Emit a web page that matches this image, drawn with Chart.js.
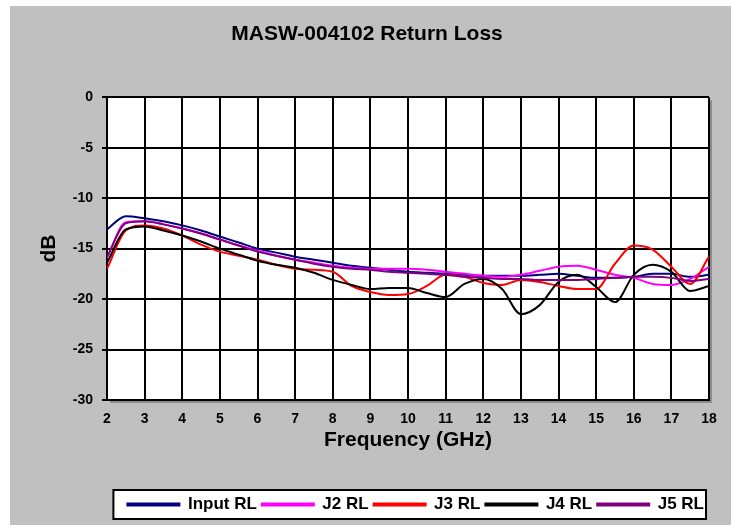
<!DOCTYPE html>
<html lang="en">
<head>
<meta charset="UTF-8">
<title>MASW-004102 Return Loss</title>
<script src="https://cdn.jsdelivr.net/npm/chart.js"></script>
<style>
  body { margin: 0; background: #fff; }
</style>
</head>
<body>
<canvas id="rlChart" width="731" height="525"></canvas>
<script>
    // frequency points (GHz)
    const freq = [2, 2.5, 3, 3.5, 4, 4.5, 5, 5.5, 6, 6.5, 7, 7.5, 8, 8.5, 9, 9.5, 10,
                  10.5, 11, 11.5, 12, 12.5, 13, 13.5, 14, 14.5, 15, 15.5, 16, 16.5, 17, 17.5, 18];

    // return loss (dB)
    const inputRL = [-13.1, -11.8, -12.0, -12.3, -12.7, -13.2, -13.8, -14.4, -15.0, -15.4, -15.8, -16.1, -16.4, -16.7, -16.9, -17.1, -17.3,
                     -17.4, -17.5, -17.6, -17.7, -17.7, -17.7, -17.6, -17.5, -17.7, -17.9, -17.9, -17.8, -17.5, -17.5, -17.8, -17.6];
    const j2RL = [-15.9, -12.4, -12.3, -12.6, -13.0, -13.5, -14.1, -14.7, -15.2, -15.7, -16.1, -16.4, -16.7, -16.9, -17.0, -17.0, -17.0,
                  -17.1, -17.3, -17.5, -17.7, -17.8, -17.6, -17.2, -16.8, -16.7, -17.1, -17.6, -17.9, -18.5, -18.6, -18.0, -16.8];
    const j3RL = [-17.0, -13.2, -12.7, -13.0, -13.7, -14.6, -15.3, -15.7, -16.1, -16.6, -17.0, -17.1, -17.3, -18.7, -19.3, -19.6, -19.5,
                  -18.7, -17.6, -17.8, -18.4, -18.6, -18.1, -18.3, -18.7, -19.0, -19.0, -16.5, -14.7, -15.1, -16.8, -18.5, -15.8];
    const j4RL = [-16.4, -13.1, -12.8, -13.2, -13.7, -14.3, -15.0, -15.6, -16.2, -16.6, -16.9, -17.4, -18.1, -18.6, -19.0, -18.9, -18.9,
                  -19.4, -19.8, -18.5, -18.0, -19.0, -21.5, -20.6, -18.3, -17.6, -18.8, -20.3, -17.6, -16.6, -17.3, -19.2, -18.7];
    const j5RL = [-15.8, -12.5, -12.3, -12.6, -13.0, -13.5, -14.1, -14.7, -15.3, -15.7, -16.1, -16.5, -16.8, -17.0, -17.1, -17.3, -17.4,
                  -17.5, -17.6, -17.8, -17.9, -18.0, -18.0, -18.1, -18.1, -18.1, -18.0, -17.9, -17.8, -17.8, -17.9, -18.2, -18.0];

    const seriesNames = ['Input RL', 'J2 RL', 'J3 RL', 'J4 RL', 'J5 RL'];
    const seriesData = [inputRL, j2RL, j3RL, j4RL, j5RL];
    const seriesColors = ['#000080', '#ff00ff', '#ff0000', '#000000', '#800080'];

    const FONT = "'Liberation Sans', Arial, sans-serif";

    // grey page, white plot with a shadow, box round the legend
    const frame = {
        id: 'frame',
        beforeDraw(chart) {
            const ctx = chart.ctx;
            const a = chart.chartArea;
            ctx.save();
            ctx.fillStyle = '#c0c0c0';
            ctx.fillRect(10, 6, chart.width - 10, chart.height - 6);
            ctx.fillStyle = '#8c8c8c';
            ctx.fillRect(a.left + 3, a.top + 3, a.right - a.left, a.bottom - a.top);
            ctx.fillStyle = '#ffffff';
            ctx.fillRect(a.left, a.top, a.right - a.left, a.bottom - a.top);

            const boxes = chart.legend.legendHitBoxes;
            if (boxes && boxes.length) {
                const first = boxes[0], last = boxes[boxes.length - 1];
                const x0 = first.left - 14, x1 = last.left + last.width + 2;
                const y0 = first.top - 6, y1 = first.top + first.height + 6;
                ctx.fillStyle = '#ffffff';
                ctx.fillRect(x0, y0, x1 - x0, y1 - y0);
                ctx.strokeStyle = '#000000';
                ctx.lineWidth = 2;
                ctx.strokeRect(x0, y0, x1 - x0, y1 - y0);
            }
            ctx.restore();
        }
    };

    const ctx = document.getElementById('rlChart').getContext('2d');
    new Chart(ctx, {
        type: 'line',
        data: {
            datasets: seriesNames.map((name, i) => ({
                label: name,
                data: freq.map((f, k) => ({ x: f, y: seriesData[i][k] })),
                borderColor: seriesColors[i],
                backgroundColor: seriesColors[i],
                borderWidth: 2,
                pointRadius: 0,
                fill: false,
                cubicInterpolationMode: 'monotone',
                order: -i
            }))
        },
        options: {
            responsive: false,
            animation: false,
            layout: { padding: { left: 25, right: 22, top: 0, bottom: 2 } },
            plugins: {
                title: {
                    display: true,
                    text: 'MASW-004102 Return Loss',
                    color: '#000',
                    font: { family: FONT, size: 21, weight: 'bold' },
                    padding: { top: 22, bottom: 50 }
                },
                legend: {
                    position: 'bottom',
                    align: 'end',
                    fullSize: false,
                    labels: {
                        color: '#000',
                        font: { family: FONT, size: 17, weight: 'bold' },
                        boxWidth: 52,
                        boxHeight: 2,
                        padding: 5,
                        sort: (a, b) => a.datasetIndex - b.datasetIndex
                    }
                },
                tooltip: { enabled: false }
            },
            scales: {
                x: {
                    type: 'linear',
                    min: 2,
                    max: 18,
                    afterFit: s => { s.height = 91; },
                    ticks: {
                        stepSize: 1,
                        color: '#000',
                        padding: 11,
                        maxRotation: 0,
                        font: { family: FONT, size: 14, weight: 'bold' }
                    },
                    grid: { color: '#000', lineWidth: 2, drawTicks: false },
                    border: { color: '#000', width: 2 },
                    title: {
                        display: true,
                        text: 'Frequency (GHz)',
                        color: '#000',
                        font: { family: FONT, size: 21, weight: 'bold' },
                        padding: { top: 0, bottom: 38 }
                    }
                },
                y: {
                    min: -30,
                    max: 0,
                    afterFit: s => { s.width = 82; },
                    ticks: {
                        stepSize: 5,
                        color: '#000',
                        padding: 9,
                        font: { family: FONT, size: 14, weight: 'bold' }
                    },
                    grid: { color: '#000', lineWidth: 2, tickLength: 5 },
                    border: { color: '#000', width: 2 },
                    title: {
                        display: true,
                        text: 'dB',
                        color: '#000',
                        font: { family: FONT, size: 21, weight: 'bold' },
                        padding: { top: 12, bottom: 0 }
                    }
                }
            }
        },
        plugins: [frame]
    });
</script>
</body>
</html>
